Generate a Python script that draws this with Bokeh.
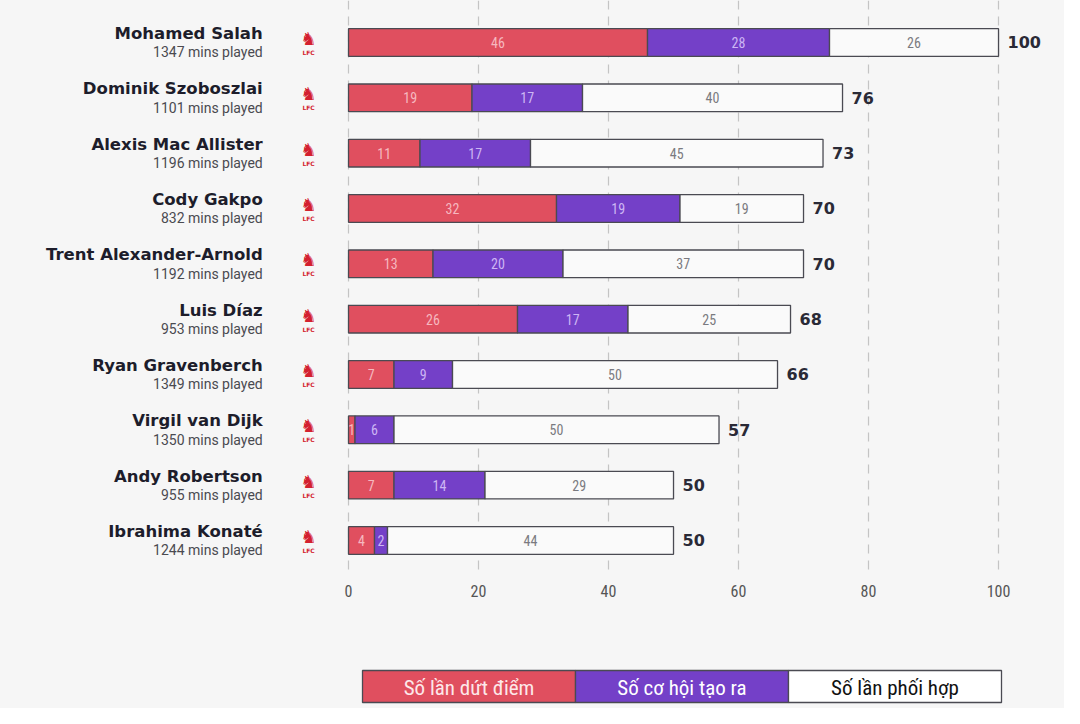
from bokeh.plotting import figure
from bokeh.layouts import column
from bokeh.models import Range1d, FixedTicker, ColumnDataSource
from bokeh.core.properties import value
from bokeh.embed import file_html
from bokeh.resources import INLINE

players = ["Mohamed Salah", "Dominik Szoboszlai", "Alexis Mac Allister", "Cody Gakpo",
           "Trent Alexander-Arnold", "Luis Díaz", "Ryan Gravenberch", "Virgil van Dijk",
           "Andy Robertson", "Ibrahima Konaté"]
minutes = [1347, 1101, 1196, 832, 1192, 953, 1349, 1350, 955, 1244]
shots = [46, 19, 11, 32, 13, 26, 7, 1, 7, 4]
chances = [28, 17, 17, 19, 20, 17, 9, 6, 14, 2]
combos = [26, 40, 45, 19, 37, 25, 50, 50, 29, 44]
series_names = ["Số lần dứt điểm", "Số cơ hội tạo ra", "Số lần phối hợp"]
x_ticks = [0, 20, 40, 60, 80, 100]

BG = "#f6f6f6"
RED = "#e04f5f"
PURPLE = "#7440c8"
WHITE = "#fafafa"
OUTLINE = "#4a4a52"
NAME_C = "#1d1d2b"
COND = "'Liberation Sans Narrow', 'Roboto Condensed', 'Roboto'"

n = len(players)
rows = list(range(n))
totals = [a + b + c for a, b, c in zip(shots, chances, combos)]

p = figure(width=1064, height=608, output_backend="svg", toolbar_location=None,
           x_range=Range1d(-53.54, 110.15), y_range=Range1d(9.579, -0.759),
           y_axis_location=None, min_border_left=0, min_border_right=0,
           min_border_top=0, min_border_bottom=36)
p.background_fill_color = BG
p.border_fill_color = BG
p.outline_line_color = None

# axis
p.xaxis.ticker = FixedTicker(ticks=x_ticks)
p.xaxis.axis_line_color = None
p.xaxis.major_tick_line_color = None
p.xaxis.minor_tick_line_color = None
p.xaxis.major_label_standoff = 6
p.xaxis.major_label_text_font_size = "16px"
p.xaxis.major_label_text_color = "#555555"
p.xaxis.major_label_text_font = COND
p.xgrid.ticker = FixedTicker(ticks=x_ticks)
p.xgrid.grid_line_color = "#c4c4c4"
p.xgrid.grid_line_dash = "9 7"
p.xgrid.grid_line_width = 1.2
p.ygrid.visible = False

left2 = [a + b for a, b in zip(shots, chances)]
src = ColumnDataSource(dict(
    y=rows, shots=shots, chances=chances, combos=combos, left2=left2, total=totals,
    zero=[0] * n,
    m1=[a / 2 for a in shots],
    m2=[a + b / 2 for a, b in zip(shots, chances)],
    m3=[s + c / 2 for s, c in zip(left2, combos)],
    s1=[str(v) for v in shots], s2=[str(v) for v in chances], s3=[str(v) for v in combos],
    stot=[str(v) for v in totals],
    name=players, mins=[f"{m} mins played" for m in minutes],
    crest=["♞"] * n, lfc=["LFC"] * n,
))

H = 0.5
p.hbar(y="y", left="zero", right="shots", height=H, source=src,
       fill_color=RED, line_color=OUTLINE, line_width=1.3)
p.hbar(y="y", left="shots", right="left2", height=H, source=src,
       fill_color=PURPLE, line_color=OUTLINE, line_width=1.3)
p.hbar(y="y", left="left2", right="total", height=H, source=src,
       fill_color=WHITE, line_color=OUTLINE, line_width=1.3)

lab_kw = dict(text_align="center", text_baseline="middle", text_font_size="14px",
              text_font=value(COND), source=src)
p.text(x="m1", y="y", text="s1", text_color="#f6b8bf", **lab_kw)
p.text(x="m2", y="y", text="s2", text_color="#cdb6f4", **lab_kw)
p.text(x="m3", y="y", text="s3", text_color="#7a7a80", **lab_kw)

# totals
p.text(x="total", y="y", text="stot", x_offset=9, text_align="left", text_baseline="middle",
       text_font_size="16px", text_font_style="bold", text_font=value("DejaVu Sans"),
       text_color="#2a2a36", source=src)

# names
p.text(x=-13.2, y="y", text="name", y_offset=-9, text_align="right", text_baseline="middle",
       text_font_size="16.5px", text_font_style="bold", text_font=value("DejaVu Sans"),
       text_color=NAME_C, source=src)
p.text(x=-13.2, y="y", text="mins", y_offset=10, text_align="right", text_baseline="middle",
       text_font_size="14px", text_font=value("Roboto"),
       text_color="#4a4a50", source=src)

# club crest (simplified)
p.text(x=-6.15, y="y", text="crest", y_offset=-4, text_align="center", text_baseline="middle",
       text_font_size="18px", text_font=value("DejaVu Sans"), text_color="#d3202f", source=src)
p.text(x=-6.15, y="y", text="lfc", y_offset=10, text_align="center", text_baseline="middle",
       text_font_size="6px", text_font_style="bold", text_font=value("DejaVu Sans"),
       text_color="#d3202f", source=src)

# legend figure
lg = figure(width=1064, height=100, output_backend="svg", toolbar_location=None,
            x_range=Range1d(0, 1064), y_range=Range1d(100, 0),
            x_axis_location=None, y_axis_location=None,
            min_border=0)
lg.background_fill_color = BG
lg.border_fill_color = BG
lg.outline_line_color = None
lg.xgrid.visible = False
lg.ygrid.visible = False
seg_w = 213
x0 = 362
lcx = [x0 + seg_w * (i + 0.5) for i in range(3)]
lg.rect(x=lcx, y=[78] * 3, width=seg_w, height=32,
        fill_color=[RED, PURPLE, "#ffffff"], line_color=OUTLINE, line_width=1.3)
lg.text(x=lcx, y=[79] * 3, text=series_names, text_align="center", text_baseline="middle",
        text_font_size="21px", text_font=value(COND),
        text_color=["#fde8ea", "#ffffff", "#111111"])

layout = column(p, lg, spacing=0)
layout.background = BG
open("out.html", "w").write(file_html(layout, INLINE))
